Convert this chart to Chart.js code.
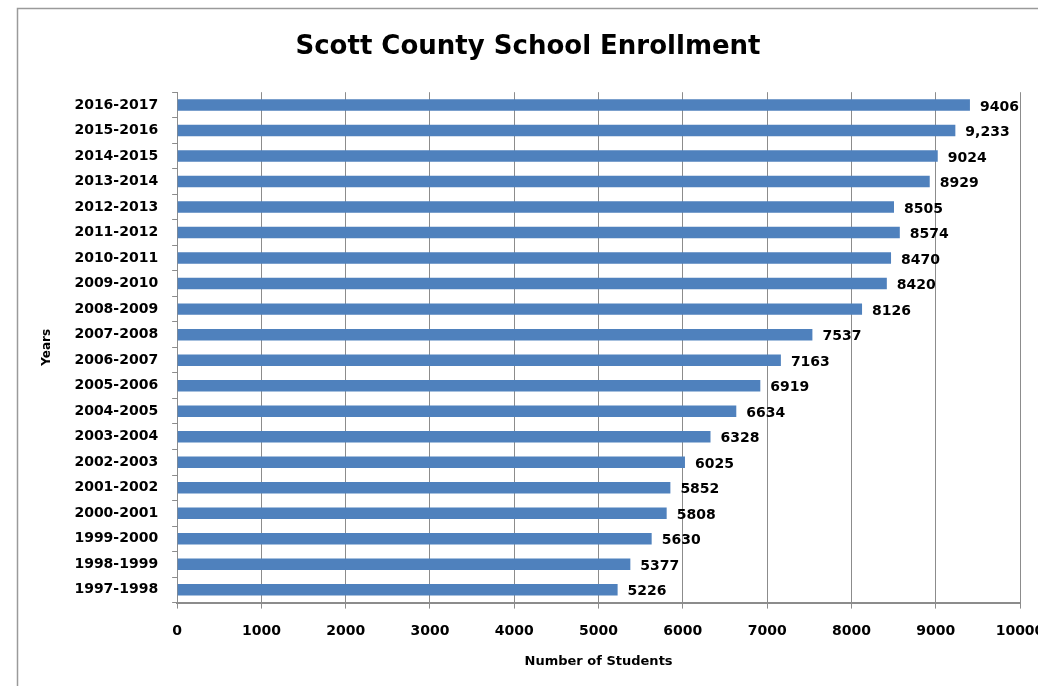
<!DOCTYPE html>
<html>
<head>
<meta charset="utf-8">
<script src="https://cdn.jsdelivr.net/npm/chart.js@4.4.1/dist/chart.umd.min.js"></script>
<style>
html,body{margin:0;padding:0;background:#fff;overflow:hidden;}
#wrap{position:absolute;left:0;top:0;width:1060px;height:686px;}
</style>
</head>
<body>
<div id="wrap"><canvas id="c" width="1060" height="686"></canvas></div>
<script>
const categories = ["2016-2017","2015-2016","2014-2015","2013-2014","2012-2013","2011-2012","2010-2011","2009-2010","2008-2009","2007-2008","2006-2007","2005-2006","2004-2005","2003-2004","2002-2003","2001-2002","2000-2001","1999-2000","1998-1999","1997-1998"];
const enrollment = [9406,9233,9024,8929,8505,8574,8470,8420,8126,7537,7163,6919,6634,6328,6025,5852,5808,5630,5377,5226];
const valueLabels = ["9406","9,233","9024","8929","8505","8574","8470","8420","8126","7537","7163","6919","6634","6328","6025","5852","5808","5630","5377","5226"];
const xTicks = [0,1000,2000,3000,4000,5000,6000,7000,8000,9000,10000];

const FONT = "'DejaVu Sans', sans-serif";

const frame = {
  id: 'frame',
  beforeDraw(chart) {
    const ctx = chart.ctx;
    ctx.save();
    ctx.fillStyle = '#fff';
    ctx.fillRect(0,0,chart.width,chart.height);
    ctx.strokeStyle = '#9a9a9a';
    ctx.lineWidth = 1.5;
    ctx.beginPath();
    ctx.moveTo(17.5, chart.height);
    ctx.lineTo(17.5, 8.5);
    ctx.lineTo(chart.width, 8.5);
    ctx.stroke();
    ctx.restore();
  }
};

const endLabels = {
  id: 'endLabels',
  afterDatasetsDraw(chart) {
    const ctx = chart.ctx;
    const meta = chart.getDatasetMeta(0);
    ctx.save();
    ctx.font = "bold 14px " + FONT;
    ctx.fillStyle = '#000';
    ctx.textAlign = 'left';
    ctx.textBaseline = 'middle';
    meta.data.forEach((bar, i) => {
      ctx.fillText(valueLabels[i], bar.x + 10, bar.y + 2);
    });
    ctx.restore();
  }
};

new Chart(document.getElementById('c'), {
  type: 'bar',
  data: {
    labels: categories,
    datasets: [{
      data: enrollment,
      backgroundColor: '#4F81BD',
      borderWidth: 0,
      barPercentage: 0.45,
      categoryPercentage: 1.0
    }]
  },
  options: {
    indexAxis: 'y',
    responsive: false,
    animation: false,
    devicePixelRatio: 1,
    layout: { padding: { left: 36, right: 40, top: 20, bottom: 13 } },
    plugins: {
      legend: { display: false },
      tooltip: { enabled: false },
      title: {
        display: true,
        text: 'Scott County School Enrollment',
        color: '#000',
        font: { family: FONT, size: 26, weight: 'bold' },
        padding: { top: 12, bottom: 29 }
      }
    },
    scales: {
      x: {
        min: 0, max: 10000,
        afterBuildTicks(scale) { scale.ticks = xTicks.map(v => ({ value: v })); },
        ticks: { color: '#000', font: { family: FONT, size: 14, weight: 'bold' }, padding: 14, maxRotation: 0,
                 callback: (v) => String(v) },
        grid: { color: '#8c8c8c', lineWidth: 1, tickLength: 6, drawTicks: true },
        border: { color: '#8c8c8c', width: 2 },
        title: { display: true, text: 'Number of Students', color: '#000', font: { family: FONT, size: 13, weight: 'bold' }, padding: { top: 0 } }
      },
      y: {
        ticks: { color: '#000', font: { family: FONT, size: 14, weight: 'bold' }, padding: 14 },
        grid: { display: true, drawOnChartArea: false, offset: true, tickLength: 5, color: '#8c8c8c' },
        border: { color: '#8c8c8c', width: 1 },
        title: { display: true, text: 'Years', color: '#000', font: { family: FONT, size: 12, weight: 'bold' }, padding: { bottom: 6 } }
      }
    }
  },
  plugins: [frame, endLabels]
});
</script>
</body>
</html>
